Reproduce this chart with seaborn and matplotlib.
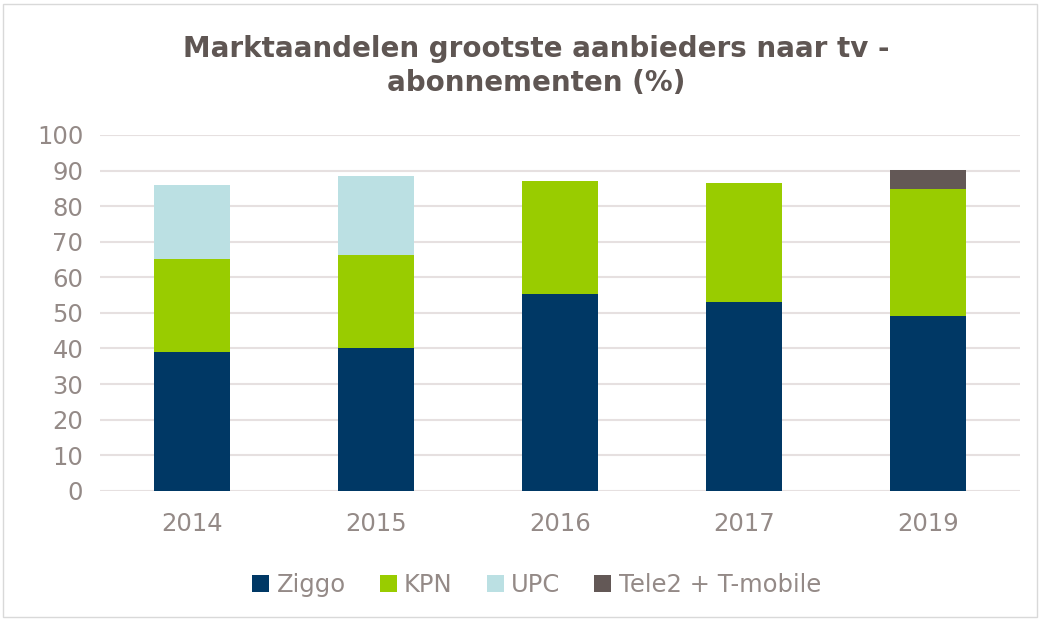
import matplotlib
matplotlib.use("Agg")
import matplotlib.pyplot as plt
import seaborn as sns
import numpy as np
from matplotlib.patches import Patch, Rectangle

years = ["2014", "2015", "2016", "2017", "2019"]
ziggo = [39.0, 40.2, 55.3, 53.1, 49.2]
kpn = [26.2, 26.1, 31.8, 33.4, 35.6]
upc = [20.8, 22.2, 0, 0, 0]
tele2 = [0, 0, 0, 0, 5.4]

series = ["Ziggo", "KPN", "UPC", "Tele2 + T-mobile"]
colors = ["#003865", "#99cc00", "#bbe0e3", "#635856"]

sns.set_style("white")
plt.rcParams["font.family"] = ["DejaVu Sans"]

fig = plt.figure(figsize=(10.42, 6.19), dpi=100)
ax = fig.add_axes([0.096, 0.207, 0.883, 0.575])

bottom = np.zeros(len(years))
for name, vals, col in zip(series, [ziggo, kpn, upc, tele2], colors):
    sns.barplot(x=years, y=vals, bottom=bottom, color=col, width=0.41,
                saturation=1, ax=ax, linewidth=0)
    bottom = bottom + np.array(vals)

ax.set_ylim(0, 100)
ax.set_yticks(range(0, 101, 10))
ax.yaxis.grid(True, color="#e6e0e0", linewidth=1.5)
ax.set_axisbelow(True)
for s in ax.spines.values():
    s.set_visible(False)
ax.tick_params(axis="both", colors="#948a87", labelsize=17.5, length=0)
ax.tick_params(axis="x", pad=15)
ax.tick_params(axis="y", pad=12)

fig.suptitle("Marktaandelen grootste aanbieders naar tv -\nabonnementen (%)",
             x=0.515, y=0.943, fontsize=20, fontweight="bold", color="#5f5653",
             linespacing=1.25)

handles = [Patch(facecolor=c, edgecolor="none") for c in colors]
fig.legend(handles, series, loc="lower center", ncol=4, frameon=False,
           bbox_to_anchor=(0.515, 0.0), fontsize=17.5, labelcolor="#948a87",
           handlelength=0.7, handleheight=0.7, handletextpad=0.3, columnspacing=1.4)

fig.patches.append(Rectangle((0.003, 0.003), 0.992, 0.99, transform=fig.transFigure,
                             fill=False, edgecolor="#d9d9d9", linewidth=1))

fig.savefig("out.png", dpi=100)
